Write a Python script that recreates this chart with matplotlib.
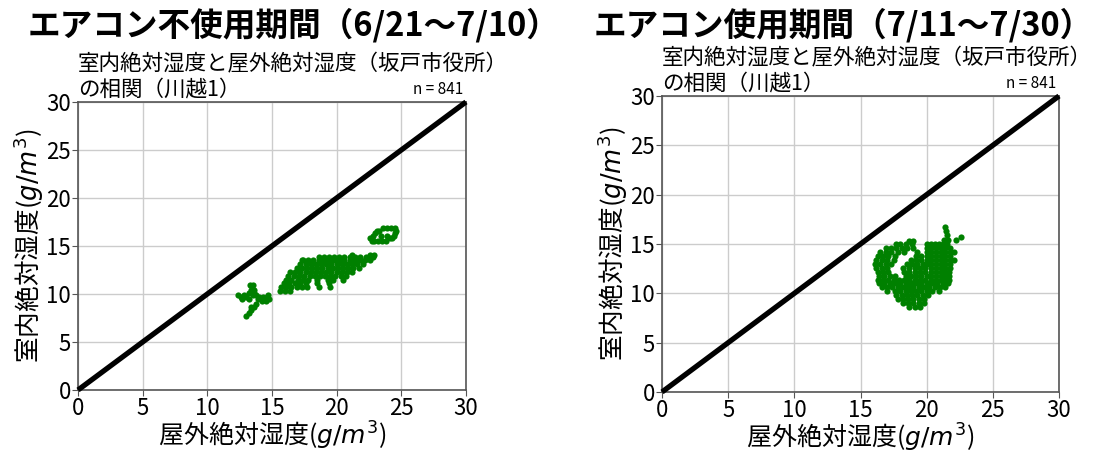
import matplotlib
matplotlib.use("Agg")
import matplotlib.pyplot as plt

plt.rcParams['font.family'] = ['Noto Sans CJK JP', 'DejaVu Sans']
plt.rcParams['mathtext.fontset'] = 'dejavusans'

# ---- data: (indoor humidity, [outdoor humidity values]) per row ----
# period without air conditioning (6/21-7/10)
off_rows = [
    (16.85, [23.6, 23.9, 24.2, 24.5]),
    (16.6, [23.1, 23.3, 24.6]),
    (16.3, [23.0, 24.5]),
    (16.05, [22.8, 23.4, 23.9, 24.4]),
    (15.8, [22.6, 24.1, 24.3]),
    (15.5, [22.7, 22.9, 23.2, 23.5, 23.8]),
    (14.1, [21.2, 22.6, 22.9]),
    (13.9, [18.6, 19.0, 19.4, 19.8, 20.2, 20.6, 21.0, 21.4, 21.8, 22.3, 22.8]),
    (13.5, [17.3, 17.4, 17.8, 18.2, 18.6, 19.0, 19.4, 19.8, 20.2, 20.6, 21.0, 21.4, 21.8, 22.2, 22.6]),
    (13.1, [17.2, 17.6, 18.0, 18.4, 18.8, 19.2, 19.6, 20.0, 20.4, 20.8, 21.2, 21.6, 22.0]),
    (12.7, [16.9, 17.3, 17.7, 18.1, 18.5, 18.9, 19.3, 19.7, 20.1, 20.5, 20.9, 21.3, 21.7]),
    (12.3, [16.4, 16.8, 17.2, 17.6, 18.0, 18.4, 18.8, 19.2, 19.6, 20.0, 20.4, 20.8, 21.2]),
    (11.9, [16.2, 16.7, 17.1, 17.5, 17.9, 18.3, 18.7, 19.1, 19.5, 19.9, 20.3, 20.7]),
    (11.5, [16.1, 16.5, 17.0, 17.4, 17.8, 18.5, 19.3, 19.7, 20.5]),
    (11.1, [15.9, 16.3, 16.8, 17.2, 17.6, 18.5, 19.4]),
    (10.9, [13.3, 13.5]),
    (10.7, [15.7, 16.1, 16.5, 16.9, 17.3, 17.7, 18.6, 19.5]),
    (10.4, [13.4, 13.6]),
    (10.3, [15.6, 16.0, 16.4]),
    (10.1, [13.2, 13.6]),
    (9.85, [12.4, 12.8, 13.5, 13.8, 14.7]),
    (9.7, [12.6, 13.0, 14.0, 14.3, 14.6]),
    (9.5, [12.7, 13.2, 13.9, 14.5, 14.8]),
    (9.25, [14.2, 14.5]),
    (9.0, [13.8]),
    (8.65, [13.4, 13.6]),
    (8.3, [13.4]),
    (8.0, [13.2]),
    (7.75, [13.0]),
]

# period with air conditioning (7/11-7/30)
on_rows = [
    (16.7, [21.4]),
    (16.3, [21.45]),
    (15.9, [21.5]),
    (15.75, [22.6]),
    (15.45, [21.3, 21.6, 22.2]),
    (15.3, [18.7, 19.0]),
    (14.95, [17.7, 18.0, 18.4, 18.9, 20.0, 20.3, 20.6, 20.9, 21.2, 21.5]),
    (14.6, [16.9, 17.3, 17.7, 18.1, 18.5, 19.0, 20.0, 20.35, 20.7, 21.05, 21.4, 21.75]),
    (14.2, [16.5, 16.9, 17.3, 17.8, 18.3, 19.3, 20.0, 20.35, 20.7, 21.05, 21.4, 21.75, 22.1]),
    (13.8, [16.3, 16.7, 17.1, 17.6, 19.2, 19.6, 20.0, 20.35, 20.7, 21.05, 21.4, 21.8]),
    (13.4, [16.2, 16.6, 17.0, 17.5, 18.8, 19.2, 19.6, 20.0, 20.35, 20.7, 21.05, 21.4, 21.8, 22.1]),
    (13.0, [16.1, 16.5, 16.9, 17.3, 18.5, 18.9, 19.3, 19.7, 20.0, 20.35, 20.7, 21.05, 21.4, 21.75]),
    (12.6, [16.2, 16.6, 17.0, 18.2, 18.7, 19.1, 19.5, 19.9, 20.3, 20.7, 21.05, 21.4, 21.8]),
    (12.2, [16.3, 16.7, 17.1, 18.3, 18.7, 19.1, 19.5, 19.9, 20.3, 20.7, 21.05, 21.4, 21.7]),
    (11.8, [16.4, 16.8, 17.2, 17.6, 18.4, 18.8, 19.2, 19.6, 20.0, 20.35, 20.7, 21.05, 21.4, 21.7]),
    (11.4, [16.3, 16.7, 17.1, 17.5, 17.9, 18.3, 18.7, 19.1, 19.5, 19.9, 20.3, 20.7, 21.05, 21.4, 21.7]),
    (11.0, [16.4, 16.8, 17.2, 17.6, 18.0, 18.4, 18.8, 19.2, 19.6, 20.0, 20.4, 20.8, 21.2, 21.6]),
    (10.6, [16.6, 17.0, 17.4, 17.8, 18.2, 18.6, 19.0, 19.4, 19.8, 20.2, 20.6, 21.0, 21.4]),
    (10.2, [17.0, 17.6, 18.0, 18.4, 18.8, 19.2, 19.6, 20.0, 20.4, 20.9]),
    (9.8, [17.7, 18.1, 18.5, 18.9, 19.3, 19.7, 20.1]),
    (9.4, [17.8, 18.2, 18.6, 19.0, 19.4, 19.8]),
    (9.0, [18.2, 18.6, 19.0, 19.4, 19.8]),
    (8.6, [18.7, 19.1, 19.5]),
]

titles = ['エアコン不使用期間（6/21～7/10）', 'エアコン使用期間（7/11～7/30）']
subtitle_lines = ['室内絶対湿度と屋外絶対湿度（坂戸市役所）', 'の相関（川越1）']
n_label = 'n = 841'
xlabel = '屋外絶対湿度($g/m^3$)'
ylabel = '室内絶対湿度($g/m^3$)'
ticks = [0, 5, 10, 15, 20, 25, 30]


def expand(rows):
    xs, ys = [], []
    for y, xvals in rows:
        for x in xvals:
            xs.append(x)
            ys.append(y)
    return xs, ys


fig = plt.figure(figsize=(10.99, 4.54), dpi=100)
axes_rects = [[0.0710, 0.1410, 0.3530, 0.6344],
              [0.6024, 0.1366, 0.3612, 0.6520]]
title_x = [0.2675, 0.7675]

for rect, rows, title, tx in zip(axes_rects, [off_rows, on_rows], titles, title_x):
    ax = fig.add_axes(rect)
    ax.set_xlim(0, 30)
    ax.set_ylim(0, 30)
    ax.set_xticks(ticks)
    ax.set_yticks(ticks)
    ax.grid(True, color='#cccccc', linewidth=1.0)
    ax.set_axisbelow(True)
    ax.plot([0, 30], [0, 30], color='black', linewidth=3.8, solid_capstyle='butt',
            clip_on=False, zorder=3)
    xs, ys = expand(rows)
    ax.scatter(xs, ys, s=20, color='green', linewidths=0, zorder=4)
    for sp in ax.spines.values():
        sp.set_color('#555555')
        sp.set_linewidth(1.2)
    ax.tick_params(labelsize=16, length=4, color='#555555', pad=1)
    ax.set_xlabel(xlabel, fontsize=18, labelpad=0)
    ax.set_ylabel(ylabel, fontsize=18.5, labelpad=0)
    # two-line subtitle, left aligned on the axes
    ax.annotate(subtitle_lines[0], xy=(0, 1), xycoords='axes fraction',
                xytext=(0, 19), textcoords='offset points',
                ha='left', va='bottom', fontsize=15.5)
    ax.annotate(subtitle_lines[1], xy=(0, 1), xycoords='axes fraction',
                xytext=(0, 1), textcoords='offset points',
                ha='left', va='bottom', fontsize=15.5)
    ax.annotate(n_label, xy=(1, 1), xycoords='axes fraction',
                xytext=(-2, 3), textcoords='offset points',
                ha='right', va='bottom', fontsize=11)
    fig.text(tx, 0.945, title, ha='center', va='center', fontsize=23.5,
             fontweight='bold')

fig.savefig('out.png', dpi=100)
